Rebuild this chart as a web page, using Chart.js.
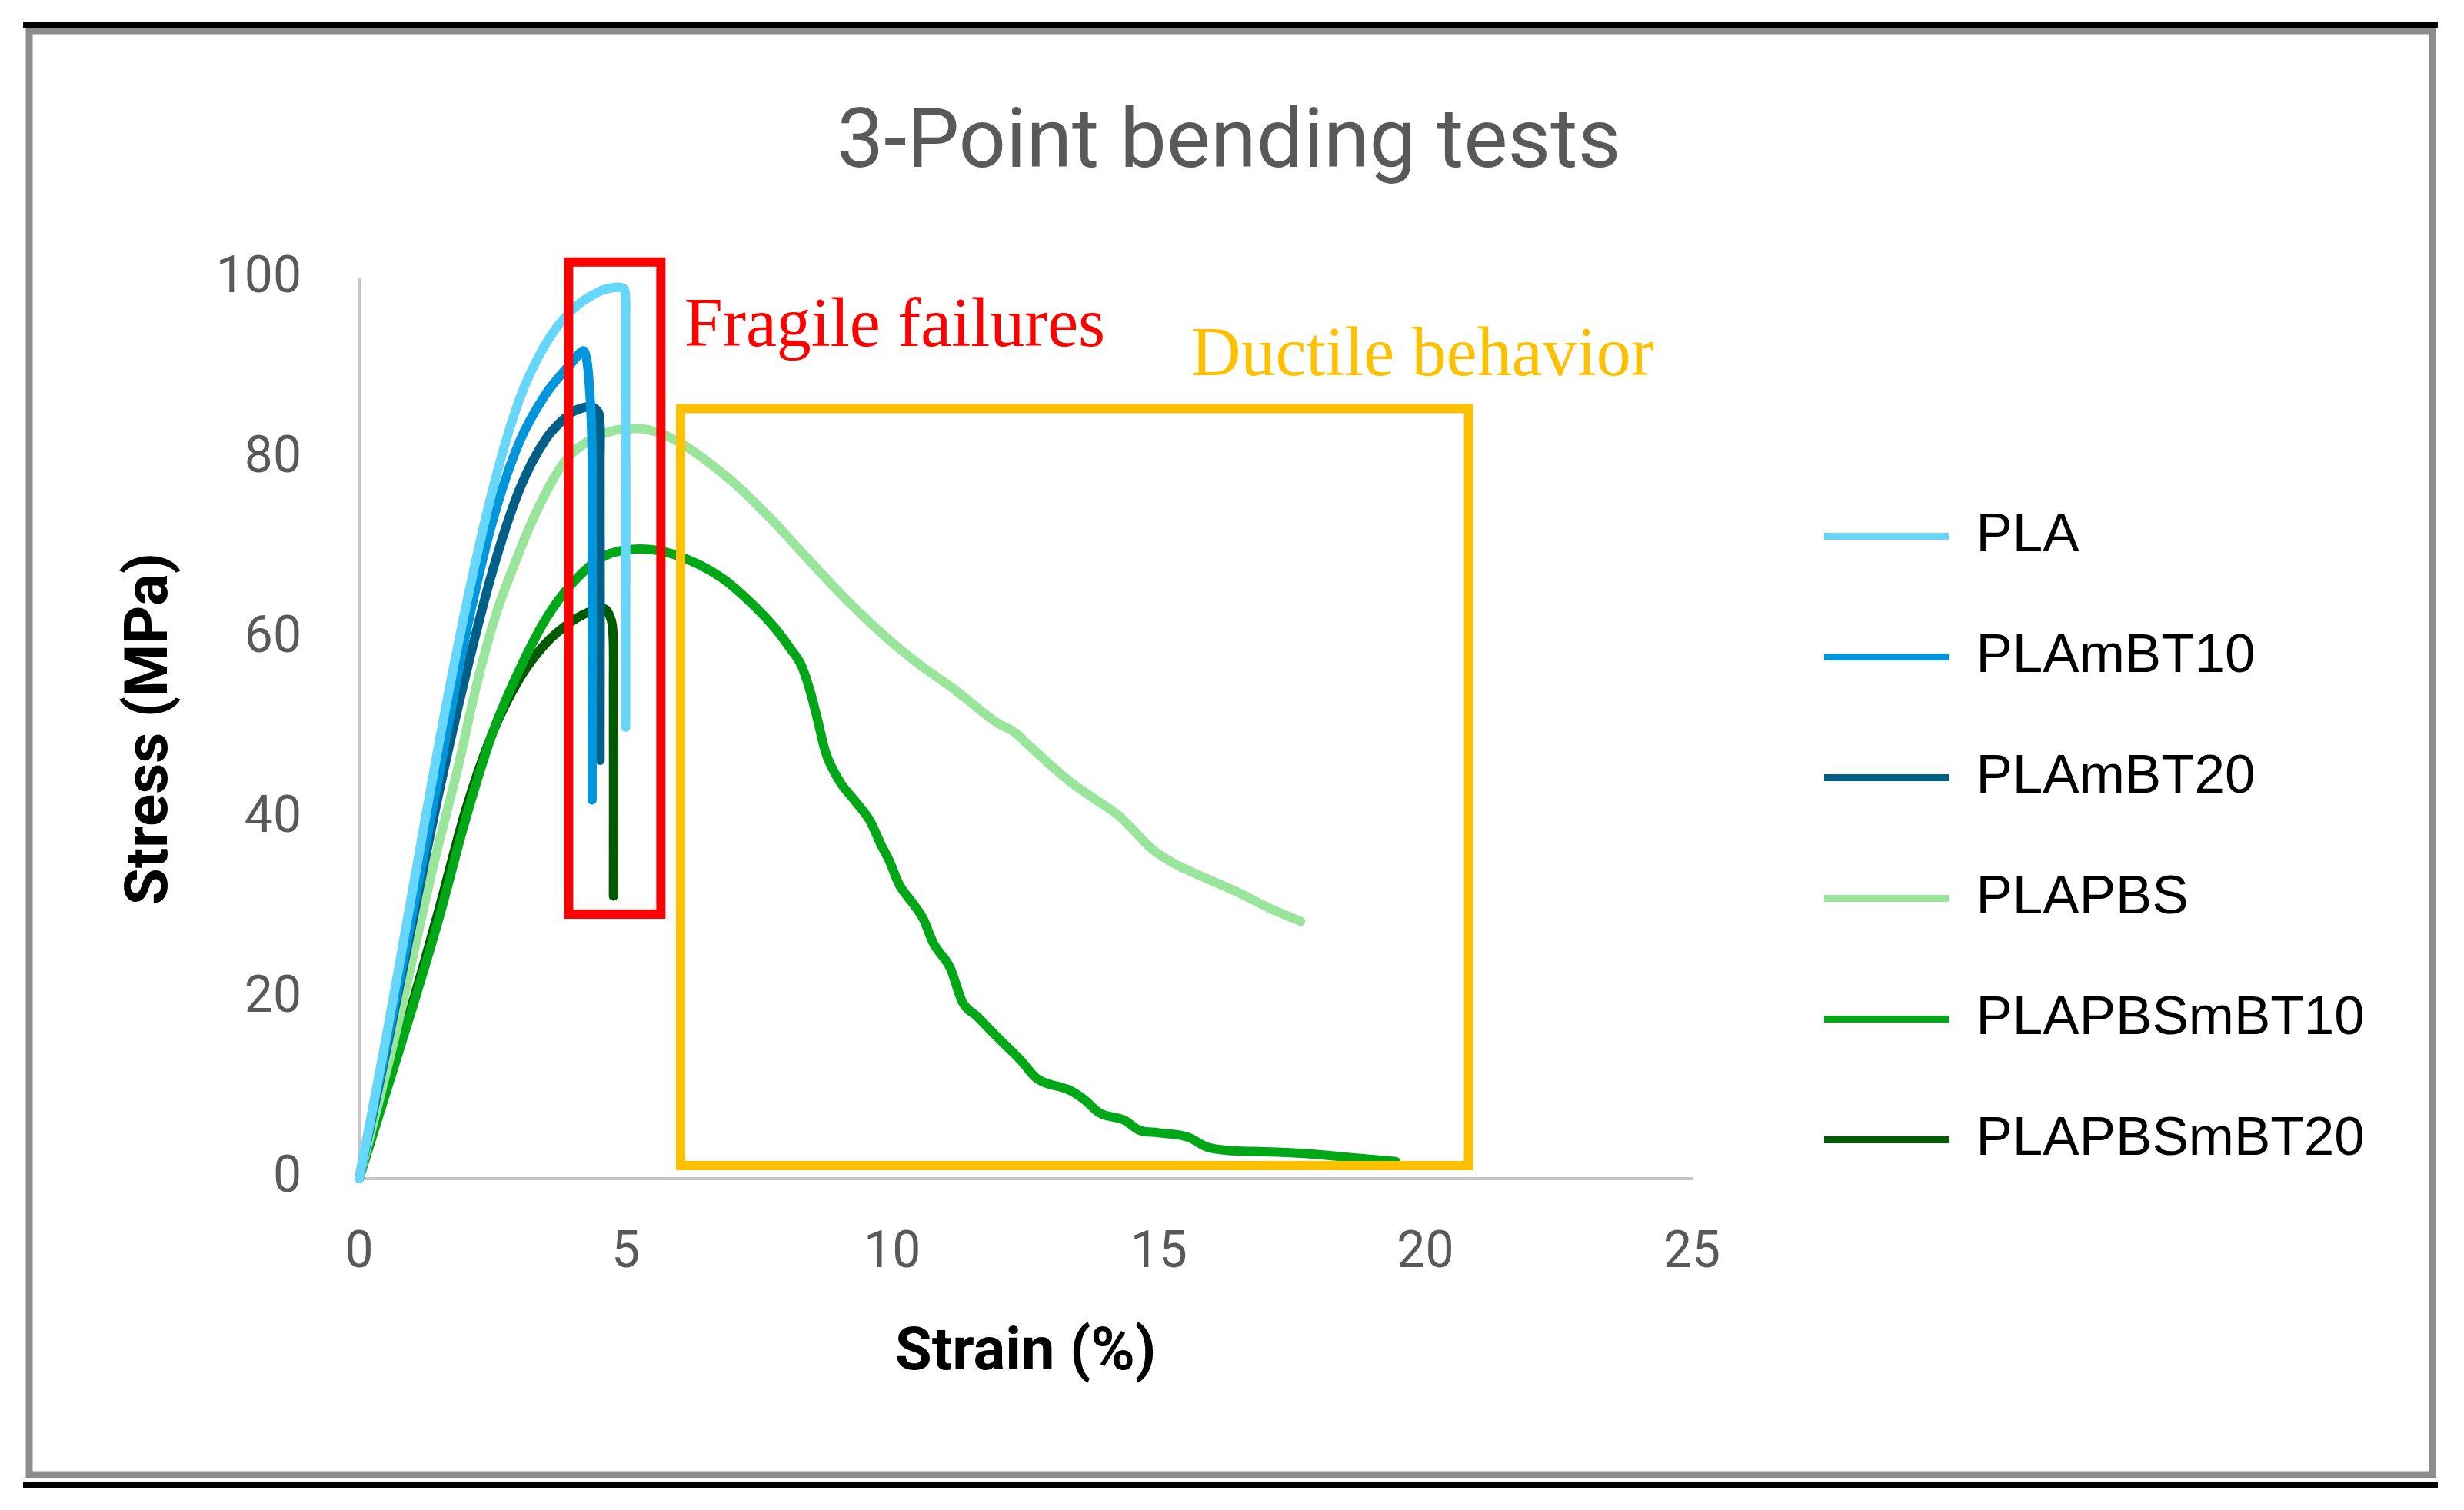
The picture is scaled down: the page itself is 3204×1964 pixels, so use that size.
<!DOCTYPE html>
<html><head><meta charset="utf-8">
<script src="https://cdn.jsdelivr.net/npm/chart.js@4.4.1/dist/chart.umd.min.js"></script>
<style>html,body{margin:0;padding:0;background:#fff;overflow:hidden}canvas{display:block}</style>
</head><body>
<canvas id="c" width="3204" height="1964" style="width:3204px;height:1964px"></canvas>
<script>
// ---------------- data ----------------
const chartTitle = '3-Point bending tests';
const xTitle = 'Strain (%)';
const yTitle = 'Stress (MPa)';
const seriesNames = ['PLA', 'PLAmBT10', 'PLAmBT20', 'PLAPBS', 'PLAPBSmBT10', 'PLAPBSmBT20'];
const seriesColors = ['#66d6fa', '#0096db', '#005f86', '#9ae59c', '#00a818', '#005a00'];
const xTickValues = [0, 5, 10, 15, 20, 25];
const yTickValues = [0, 20, 40, 60, 80, 100];

const plaStrain = [0, 0.5, 1.0, 1.5, 2.0, 2.5, 3.0, 3.5, 4.0, 4.5, 4.85, 4.98, 5.0, 5.0];
const plaStress = [0, 15.5, 32, 48.5, 63.5, 76.5, 86.5, 92.8, 96.6, 98.6, 99.1, 98.8, 96, 50.2];

const bt10Strain = [0, 0.5, 1.0, 1.5, 2.0, 2.5, 3.0, 3.5, 4.0, 4.22, 4.32, 4.37, 4.37];
const bt10Stress = [0, 14.5, 29.5, 45, 60.5, 73, 81.8, 87.2, 90.8, 92.0, 88, 80, 42.1];

const bt20Strain = [0, 0.5, 1.0, 1.5, 2.0, 2.5, 3.0, 3.5, 4.0, 4.35, 4.5, 4.52, 4.52];
const bt20Stress = [0, 14, 28.5, 43, 56, 67.5, 76.5, 82.2, 85.2, 85.8, 85, 80, 46.5];

const pbsStrain = [0, 0.7, 1.4, 1.85, 2.2, 2.55, 2.94, 3.33, 3.84, 4.3, 4.8, 5.2, 5.9, 6.9, 7.7, 8.4, 9.2, 9.94, 10.5, 11.14, 11.96, 12.3, 12.61, 13.34, 13.8, 14.26, 14.9, 15.3, 15.73, 16.46, 17.1, 17.66];
const pbsStress = [0, 16.5, 35, 45.6, 54.8, 62.4, 68.7, 74.2, 79.6, 82, 83.2, 83.4, 82.2, 78, 73.5, 69, 64, 59.9, 57.2, 54.5, 50.7, 49.6, 47.9, 44.1, 42.2, 40.3, 36.5, 35, 33.8, 31.9, 30.0, 28.6];

const pbs10Strain = [0, 0.5, 1.0, 1.5, 2.0, 2.5, 3.0, 3.5, 4.0, 4.6, 5.26, 5.9, 6.8, 7.44, 7.8, 8.08, 8.3, 8.47, 8.6, 8.75, 9.02, 9.3, 9.58, 9.8, 9.94, 10.13, 10.4, 10.58, 10.77, 11.09, 11.32, 11.6, 11.96, 12.42, 12.7, 13.34, 13.6, 13.89, 14.35, 14.63, 15.0, 15.55, 15.91, 16.38, 17.0, 17.74, 18.5, 19.45];
const pbs10Stress = [0, 9.5, 19, 29, 40, 49.5, 56.5, 62.2, 66.2, 69.2, 70.0, 69.4, 66.8, 63.5, 61.2, 59.0, 57, 54.0, 51, 47.4, 44.1, 42, 39.8, 37, 35.4, 32.7, 30.5, 28.9, 26.2, 23.4, 19.6, 18.0, 15.8, 13.1, 11.2, 9.8, 8.8, 7.3, 6.5, 5.4, 5.1, 4.6, 3.5, 3.1, 3.0, 2.8, 2.4, 1.9];

const pbs20Strain = [0, 0.5, 1.0, 1.5, 2.0, 2.5, 3.0, 3.5, 4.0, 4.4, 4.62, 4.75, 4.77, 4.77];
const pbs20Stress = [0, 9.8, 19.5, 30, 41, 49.5, 55.5, 59.5, 62, 63.2, 63.3, 61.5, 55, 31.4];

const strainSets = [plaStrain, bt10Strain, bt20Strain, pbsStrain, pbs10Strain, pbs20Strain];
const stressSets = [plaStress, bt10Stress, bt20Stress, pbsStress, pbs10Stress, pbs20Stress];
// curves whose strain keeps increasing can use monotone smoothing
const monotoneSeries = [false, false, false, true, true, false];

// annotation regions, in axis units (strain %, stress MPa)
const fragileBox = {x0: 3.93, x1: 5.66, y0: 29.4, y1: 101.9};
const ductileBox = {x0: 6.03, x1: 20.81, y0: 1.45, y1: 85.6};
const fragileLabel = {text: 'Fragile failures', x: 6.10, y: 92.6};
const ductileLabel = {text: 'Ductile behavior', x: 15.60, y: 89.3};

// ---------------- layout ----------------
const W = 3204, H = 1964;
const TARGET = {left: 467, right: 2200, top: 363, bottom: 1533};
const L = {pl: 108, pr: 117, pt: 40, pb: 131, yW: 359, xH: 300, D: 86, titleTop: 85, titleBottom: 108};
const yTitleFont = 78, yTitleLH = yTitleFont * 1.2;
const legendFont = 71, legendPad = 86;

const datasets = seriesNames.map((name, i) => ({
  label: name,
  data: strainSets[i].map((s, k) => ({x: s, y: stressSets[i][k]})),
  borderColor: seriesColors[i],
  backgroundColor: seriesColors[i],
  borderWidth: 12,
  borderCapStyle: 'round',
  borderJoinStyle: 'round',
  pointRadius: 0,
  tension: 0.3,
  cubicInterpolationMode: monotoneSeries[i] ? 'monotone' : 'default',
  fill: false,
  clip: 12
}));

const decor = {
  id: 'decor',
  beforeDraw(chart) {
    const ctx = chart.ctx;
    ctx.save();
    ctx.fillStyle = '#ffffff';
    ctx.fillRect(0, 0, chart.width, chart.height);
    ctx.strokeStyle = '#8c8c8c';
    ctx.lineWidth = 9;
    ctx.strokeRect(38, 40, 3163 - 38, 1918 - 40);
    ctx.fillStyle = '#000000';
    ctx.fillRect(30, 29, 3140, 8);
    ctx.fillRect(30, 1927, 3140, 9);
    ctx.restore();
  },
  afterDraw(chart) {
    const ctx = chart.ctx, xs = chart.scales.x, ys = chart.scales.y;
    ctx.save();
    const box = (b, color) => {
      const x0 = xs.getPixelForValue(b.x0), x1 = xs.getPixelForValue(b.x1);
      const y0 = ys.getPixelForValue(b.y0), y1 = ys.getPixelForValue(b.y1);
      ctx.strokeStyle = color; ctx.lineWidth = 12; ctx.lineJoin = 'miter';
      ctx.strokeRect(x0, y1, x1 - x0, y0 - y1);
    };
    box(ductileBox, '#ffc000');
    box(fragileBox, '#ff0000');
    ctx.font = '90px "Liberation Serif"';
    ctx.textBaseline = 'alphabetic';
    ctx.textAlign = 'left';
    ctx.fillStyle = '#ff0000';
    ctx.fillText(fragileLabel.text, xs.getPixelForValue(fragileLabel.x), ys.getPixelForValue(fragileLabel.y));
    ctx.fillStyle = '#ffc000';
    ctx.fillText(ductileLabel.text, xs.getPixelForValue(ductileLabel.x), ys.getPixelForValue(ductileLabel.y));
    ctx.restore();
  }
};

Chart.defaults.font.family = 'Roboto';
const chart = new Chart(document.getElementById('c'), {
  type: 'line',
  data: {datasets},
  plugins: [decor],
  options: {
    responsive: false,
    devicePixelRatio: 1,
    animation: false,
    events: [],
    layout: {padding: {left: L.pl, right: L.pr, top: L.pt, bottom: L.pb}},
    plugins: {
      tooltip: {enabled: false},
      title: {
        display: true, text: chartTitle, color: '#595959',
        font: {family: 'Roboto', size: 108, weight: 'normal', lineHeight: 1.2},
        padding: {top: L.titleTop, bottom: L.titleBottom}
      },
      legend: {
        display: true, position: 'right', align: 'center', fullSize: true, maxWidth: 1200,
        title: {display: true, text: ' ', font: {size: 10, lineHeight: 1}, padding: {top: 297, bottom: 0}},
        labels: {
          usePointStyle: true, pointStyle: 'line', pointStyleWidth: 162,
          padding: legendPad, color: '#000000',
          font: {family: '"Liberation Sans", Arial', size: legendFont, lineHeight: 1.2},
          generateLabels: (c) => Chart.defaults.plugins.legend.labels.generateLabels(c)
            .map(item => Object.assign(item, {lineWidth: 9}))
        }
      }
    },
    scales: {
      x: {
        type: 'linear', position: 'bottom', min: 0, max: 25,
        afterBuildTicks: s => { s.ticks = xTickValues.map(v => ({value: v})); },
        afterFit: s => { s.height = L.xH; },
        grid: {display: false, drawTicks: false},
        border: {display: true, color: '#c6c6c6', width: 4},
        ticks: {color: '#595959', padding: 59, font: {family: 'Roboto', size: 66, lineHeight: 1.2}},
        title: {display: true, text: xTitle, color: '#000000',
          font: {family: 'Roboto', size: 78, weight: 'bold', lineHeight: 1.2}, padding: {top: 0, bottom: 25}}
      },
      y: {
        type: 'linear', position: 'left', min: 0, max: 100,
        afterBuildTicks: s => { s.ticks = yTickValues.map(v => ({value: v})); },
        afterFit: s => { s.width = L.yW; },
        grid: {display: false, drawTicks: false},
        border: {display: true, color: '#c6c6c6', width: 4},
        ticks: {color: '#595959', padding: 75, font: {family: 'Roboto', size: 66, lineHeight: 1.2}},
        title: {display: true, text: yTitle, color: '#000000',
          font: {family: 'Roboto', size: yTitleFont, weight: 'bold', lineHeight: 1.2}, padding: {top: 43, bottom: 0}}
      },
      yR: {
        type: 'linear', position: 'right', min: 0, max: 1, display: true,
        afterFit: s => { s.width = L.D; },
        grid: {display: false, drawTicks: false},
        border: {display: false},
        ticks: {display: false},
        title: {display: false}
      }
    }
  }
});

function applyLayout() {
  const o = chart.options;
  o.layout.padding = {left: L.pl, right: L.pr, top: L.pt, bottom: L.pb};
  o.scales.y.title.padding = {top: Math.max(0, 197.5 - L.pl - yTitleLH / 2), bottom: 0};
  o.plugins.title.padding = {top: L.titleTop, bottom: L.titleBottom};
  // legend vertical placement: first row centre at 697.6
  const colH = 6 * (legendFont + legendPad);
  const y0 = 697.6 - legendFont / 2;
  const T = 2 * y0 - (L.pt + legendPad + (H - L.pb) - colH);
  o.plugins.legend.title.padding = {top: Math.max(0, T - 10), bottom: 0};
  chart.update('none');
}
const Lw = Math.min(chart.legend.width, 900);
L.pr = Math.max(20, W - TARGET.right - L.D - Lw);
L.pl = Math.max(20, L.pr - 8);
L.yW = TARGET.left - L.pl;
applyLayout();
for (let k = 0; k < 2; k++) {
  const ca = chart.chartArea;
  L.yW += TARGET.left - ca.left;
  L.pr = Math.max(0, L.pr + ca.right - TARGET.right);
  L.titleBottom += TARGET.top - ca.top;
  L.pb += ca.bottom - TARGET.bottom;
  applyLayout();
}
</script>
</body></html>
